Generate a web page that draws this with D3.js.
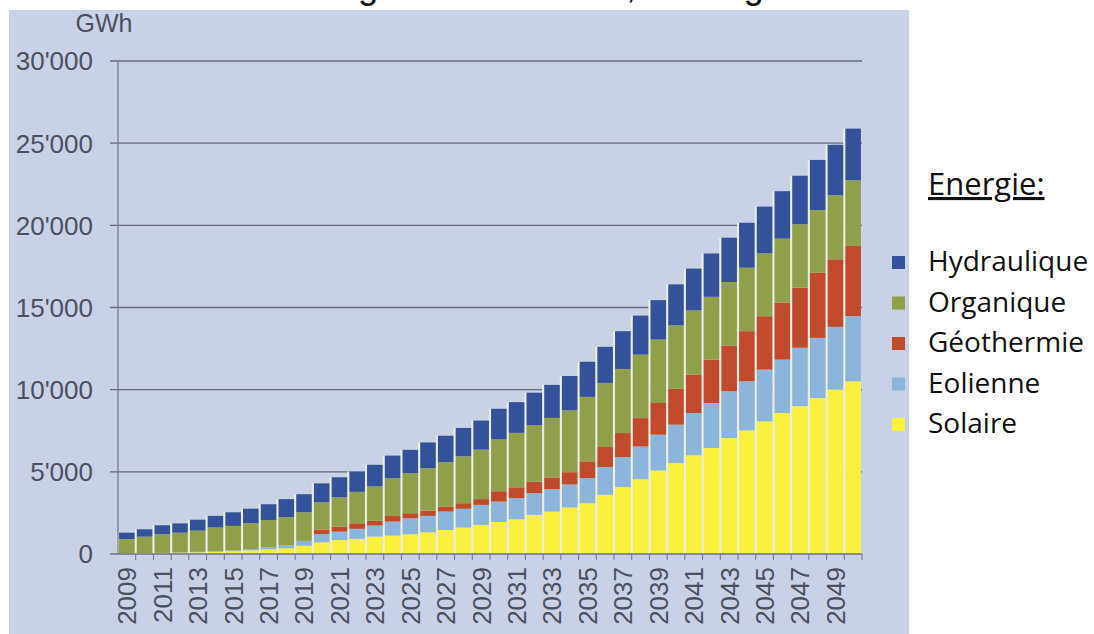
<!DOCTYPE html>
<html>
<head>
<meta charset="utf-8">
<script src="https://cdn.jsdelivr.net/npm/d3@7"></script>
<style>
  body { margin: 0; background: #fff; }
  svg { display: block; }
</style>
</head>
<body>
<svg id="chart"></svg>
<script>
const svgWidth = 1094, svgHeight = 634;
const plot = {left: 118, right: 862, top: 61, bottom: 554};

// years on the x axis
const years = d3.range(2009, 2051);
const yearLabels = years.filter(y => y % 2 === 1);
const yTicks = [0, 5000, 10000, 15000, 20000, 25000, 30000];

// GWh per year
const solaire = [20, 30, 50, 70, 100, 130, 170, 220, 280, 350, 500,
    710, 850, 920, 1060, 1120, 1200, 1320, 1460, 1610, 1770, 1950,
    2110, 2380, 2580, 2830, 3090, 3600, 4070, 4550, 5080, 5530,
    6010, 6450, 7050, 7520, 8070, 8580, 8990, 9490, 10000, 10510];
const eolienne = [10, 15, 20, 25, 30, 40, 50, 80, 120, 180, 300,
    500, 510, 610, 670, 850, 970, 1000, 1120, 1140, 1220, 1240,
    1290, 1320, 1360, 1400, 1530, 1690, 1830, 1990, 2180, 2340,
    2570, 2740, 2850, 2990, 3150, 3250, 3560, 3660, 3820, 3960];
const geothermie = [0, 0, 0, 0, 0, 0, 0, 0, 0, 0, 0,
    280, 300, 340, 290, 340, 310, 320, 310, 340, 350, 630,
    660, 690, 720, 750, 1020, 1220, 1460, 1730, 1930, 2180,
    2320, 2640, 2790, 3050, 3250, 3460, 3660, 3960, 4110, 4270];
const organique = [870, 1010, 1130, 1200, 1290, 1440, 1490, 1570, 1670, 1710, 1740,
    1650, 1790, 1910, 2090, 2300, 2440, 2580, 2700, 2850, 3010, 3150,
    3310, 3460, 3620, 3760, 3920, 3900, 3900, 3860, 3860, 3860,
    3920, 3820, 3860, 3860, 3820, 3900, 3860, 3820, 3900, 4000];
const hydraulique = [400, 450, 550, 570, 670, 710, 830, 890, 960, 1100, 1100,
    1160, 1220, 1240, 1320, 1380, 1420, 1570, 1610, 1730, 1770, 1870,
    1870, 1970, 2010, 2090, 2140, 2200, 2300, 2380, 2400, 2500,
    2550, 2640, 2700, 2740, 2850, 2890, 2950, 3050, 3070, 3150];

const keys = ["Solaire", "Eolienne", "Géothermie", "Organique", "Hydraulique"];
const colors = {
    "Solaire": "#f7f03c",
    "Eolienne": "#8db5dc",
    "Géothermie": "#c04a2c",
    "Organique": "#909f4a",
    "Hydraulique": "#35519a"
};
const legendOrder = ["Hydraulique", "Organique", "Géothermie", "Eolienne", "Solaire"];

const table = years.map((y, i) => ({
    year: y,
    "Solaire": solaire[i],
    "Eolienne": eolienne[i],
    "Géothermie": geothermie[i],
    "Organique": organique[i],
    "Hydraulique": hydraulique[i]
}));

const chart = d3.select('#chart')
    .attr("width", svgWidth)
    .attr("height", svgHeight)
    .style("font-family", "'Liberation Sans', Arial, sans-serif");

// title, only the tails of its letters are in the frame
const title = chart.append("text")
    .attr("x", 200)
    .attr("y", -2)
    .style("font-family", "'Liberation Sans', Arial, sans-serif")
    .style("font-size", "37px")
    .attr("fill", "#111")
    .text("Production d'énergie renouvelable, Stratégie 2050");
const tstr = title.text();
const gi = tstr.indexOf("g"), ci = tstr.indexOf(",");
let span = title.node().getStartPositionOfChar(ci).x - title.node().getStartPositionOfChar(gi).x;
title.style("font-size", (37 * 268 / span) + "px");
const gx = title.node().getStartPositionOfChar(gi).x;
title.attr("x", 200 + (358 - gx));

// panel background
chart.append("rect")
    .attr("x", 9).attr("y", 10)
    .attr("width", 900).attr("height", svgHeight - 10)
    .attr("fill", "#c9d1e7");

var xScale = d3.scaleBand().domain(years).range([plot.left, plot.right]).paddingInner(0.12).paddingOuter(0.06);
var yScale = d3.scaleLinear().domain([0, 30000]).range([plot.bottom, plot.top]);

// gridlines + y labels
chart.append("g").selectAll("line")
    .data(yTicks.filter(d => d > 0))
    .enter().append("line")
    .attr("x1", plot.left - 8).attr("x2", plot.right)
    .attr("y1", d => yScale(d)).attr("y2", d => yScale(d))
    .attr("stroke", "#666a7c").attr("stroke-width", 1.4);

chart.append("g").selectAll("text")
    .data(yTicks)
    .enter().append("text")
    .attr("x", 93)
    .attr("y", d => yScale(d))
    .attr("dy", "0.36em")
    .attr("text-anchor", "end")
    .style("font-size", "26px")
    .attr("fill", "#4d505c")
    .text(d => d3.format(",")(d).replace(/,/g, "'"));

chart.append("text")
    .attr("x", 104).attr("y", 32)
    .attr("text-anchor", "middle")
    .style("font-size", "25px")
    .attr("fill", "#4d505c")
    .text("GWh");

// light backing shows between the bars
const step = xScale.step();
chart.append("g").selectAll("rect")
    .data(table)
    .enter().append("rect")
    .attr("x", d => xScale(d.year) - step * 0.12)
    .attr("width", step)
    .attr("y", d => yScale(d3.sum(keys, k => d[k])))
    .attr("height", d => plot.bottom - yScale(d3.sum(keys, k => d[k])))
    .attr("fill", "#eceee2");

const series = d3.stack().keys(keys)(table);

chart.append("g").selectAll("g")
    .data(series)
    .enter().append("g")
    .attr("fill", d => colors[d.key])
    .selectAll("rect")
    .data(d => d)
    .enter().append("rect")
    .attr("x", d => xScale(d.data.year))
    .attr("width", xScale.bandwidth())
    .attr("y", d => yScale(d[1]))
    .attr("height", d => yScale(d[0]) - yScale(d[1]));

// axes lines
chart.append("line")
    .attr("x1", plot.left).attr("x2", plot.left)
    .attr("y1", plot.top).attr("y2", plot.bottom)
    .attr("stroke", "#6f7385").attr("stroke-width", 1.2);
chart.append("line")
    .attr("x1", plot.left - 8).attr("x2", plot.right)
    .attr("y1", plot.bottom).attr("y2", plot.bottom)
    .attr("stroke", "#6f7385").attr("stroke-width", 1.4);

// small ticks between the years
chart.append("g").selectAll("line")
    .data(years)
    .enter().append("line")
    .attr("x1", d => xScale(d) + xScale.bandwidth() + step * 0.06)
    .attr("x2", d => xScale(d) + xScale.bandwidth() + step * 0.06)
    .attr("y1", plot.bottom).attr("y2", plot.bottom + 6)
    .attr("stroke", "#6f7385").attr("stroke-width", 1);

// x labels, rotated
chart.append("g").selectAll("text")
    .data(yearLabels)
    .enter().append("text")
    .attr("transform", d => "translate(" + (xScale(d) + xScale.bandwidth() / 2) + "," + 567 + ") rotate(-90)")
    .attr("dy", "0.36em")
    .attr("text-anchor", "end")
    .style("font-size", "26px")
    .attr("fill", "#4d505c")
    .text(d => d);

// legend
chart.append("text")
    .attr("x", 928).attr("y", 195)
    .style("font-family", "'Open Sans', sans-serif")
    .style("font-size", "31px")
    .style("text-decoration", "underline")
    .attr("fill", "#111")
    .text("Energie:");

const legend = chart.append("g").selectAll("g")
    .data(legendOrder)
    .enter().append("g")
    .attr("transform", (d, i) => "translate(0," + (271 + i * 40.5) + ")");

legend.append("rect")
    .attr("x", 892).attr("y", -15)
    .attr("width", 13).attr("height", 13)
    .attr("fill", d => colors[d]);

legend.append("text")
    .attr("x", 928).attr("y", 0)
    .style("font-family", "'Open Sans', sans-serif")
    .style("font-size", "28px")
    .attr("fill", "#111")
    .text(d => d);
</script>
</body>
</html>
